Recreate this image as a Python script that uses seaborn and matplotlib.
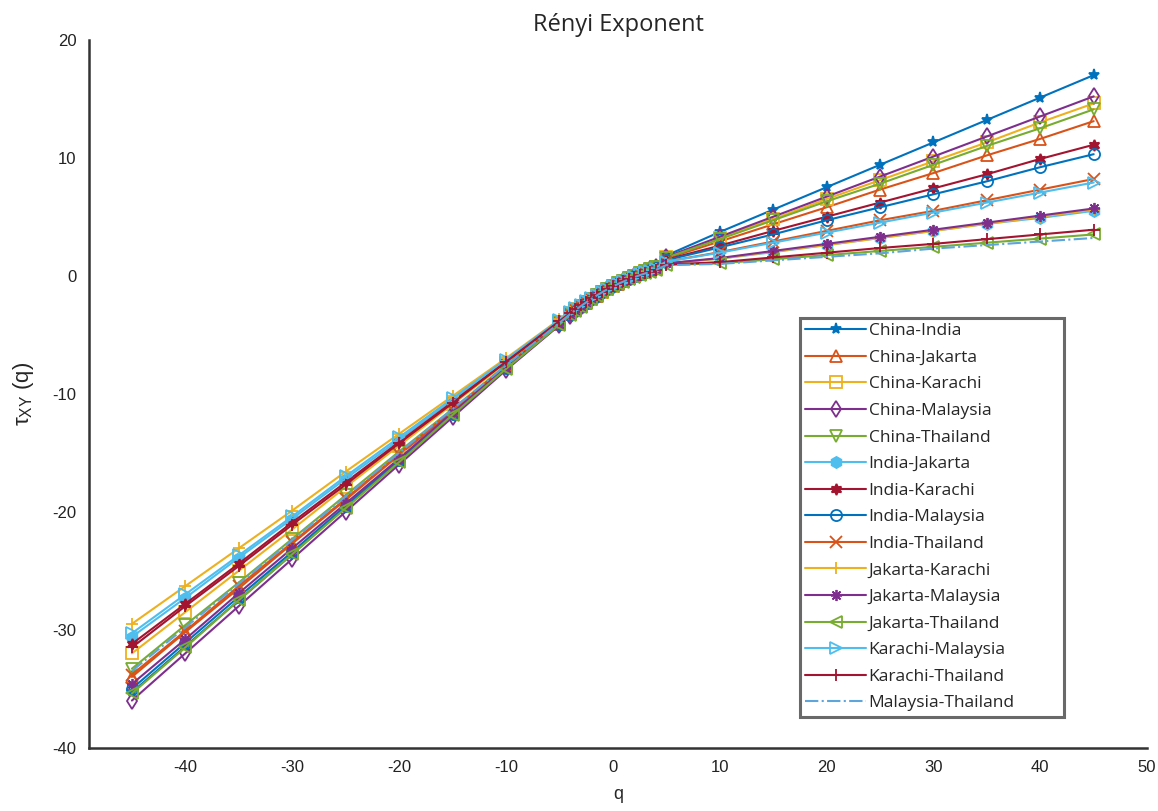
import matplotlib
matplotlib.use("Agg")
import matplotlib.pyplot as plt
import seaborn as sns
import pandas as pd

# q grid: coarse on the wings, fine in the centre
q_values = [-45, -40, -35, -30, -25, -20, -15, -10, -5,
            -4, -3.5, -3, -2.5, -2, -1.5, -1, -0.5, 0, 0.5, 1, 1.5, 2, 2.5, 3, 3.5, 4,
            5, 10, 15, 20, 25, 30, 35, 40, 45]

series_names = ["China-India", "China-Jakarta", "China-Karachi", "China-Malaysia",
                "China-Thailand", "India-Jakarta", "India-Karachi", "India-Malaysia",
                "India-Thailand", "Jakarta-Karachi", "Jakarta-Malaysia", "Jakarta-Thailand",
                "Karachi-Malaysia", "Karachi-Thailand", "Malaysia-Thailand"]

china_india = [-35.3, -31.4, -27.5, -23.6, -19.6, -15.7, -11.8, -7.9, -4.15,
               -3.34, -2.98, -2.65, -2.32, -2.01, -1.70, -1.42, -1.15, -0.90, -0.64, -0.41, -0.19, 0.03, 0.24, 0.43, 0.62, 0.80,
               1.71, 3.7, 5.6, 7.5, 9.4, 11.3, 13.2, 15.1, 17.0]
china_jakarta = [-34.0, -30.2, -26.5, -22.7, -19.0, -15.2, -11.5, -7.7, -4.05,
                 -3.28, -2.93, -2.60, -2.28, -1.98, -1.68, -1.41, -1.14, -0.90, -0.66, -0.43, -0.22, -0.02, 0.18, 0.36, 0.54, 0.71,
                 1.47, 2.9, 4.36, 5.8, 7.3, 8.7, 10.2, 11.6, 13.1]
china_karachi = [-32.0, -28.5, -25.0, -21.5, -17.9, -14.4, -10.9, -7.4, -3.9,
                 -3.19, -2.85, -2.54, -2.22, -1.93, -1.65, -1.39, -1.13, -0.90, -0.65, -0.42, -0.21, 0.00, 0.20, 0.38, 0.56, 0.74,
                 1.56, 3.2, 4.8, 6.5, 8.1, 9.7, 11.3, 13.0, 14.6]
china_malaysia = [-36.0, -32.0, -28.0, -24.0, -20.0, -16.0, -12.0, -8.0, -4.2,
                  -3.37, -3.00, -2.67, -2.33, -2.02, -1.71, -1.43, -1.16, -0.90, -0.65, -0.42, -0.20, 0.01, 0.21, 0.40, 0.58, 0.76,
                  1.59, 3.3, 5.0, 6.7, 8.4, 10.1, 11.8, 13.5, 15.2]
china_thailand = [-33.3, -29.6, -26.0, -22.3, -18.6, -14.9, -11.3, -7.6, -4.0,
                  -3.25, -2.90, -2.58, -2.26, -1.96, -1.67, -1.40, -1.14, -0.90, -0.65, -0.43, -0.21, -0.01, 0.19, 0.38, 0.55, 0.73,
                  1.53, 3.1, 4.7, 6.3, 7.8, 9.4, 11.0, 12.5, 14.1]
india_jakarta = [-30.6, -27.3, -23.9, -20.6, -17.2, -13.9, -10.5, -7.2, -3.8,
                 -3.13, -2.80, -2.49, -2.18, -1.90, -1.63, -1.37, -1.13, -0.90, -0.68, -0.48, -0.28, -0.10, 0.07, 0.24, 0.39, 0.54,
                 1.04, 1.45, 2.0, 2.6, 3.2, 3.8, 4.4, 4.9, 5.5]
india_karachi = [-31.2, -27.8, -24.4, -20.9, -17.5, -14.1, -10.7, -7.3, -3.85,
                 -3.16, -2.82, -2.51, -2.20, -1.92, -1.64, -1.38, -1.13, -0.90, -0.66, -0.44, -0.23, -0.03, 0.15, 0.33, 0.50, 0.67,
                 1.37, 2.55, 3.8, 5.0, 6.2, 7.4, 8.6, 9.9, 11.1]
india_malaysia = [-35.0, -31.1, -27.2, -23.4, -19.5, -15.6, -11.7, -7.85, -4.1,
                  -3.31, -2.95, -2.62, -2.30, -1.99, -1.69, -1.42, -1.15, -0.90, -0.66, -0.45, -0.24, -0.04, 0.14, 0.32, 0.48, 0.65,
                  1.32, 2.4, 3.5, 4.7, 5.8, 6.9, 8.0, 9.2, 10.3]
india_thailand = [-33.8, -30.1, -26.3, -22.6, -18.9, -15.1, -11.4, -7.65, -4.0,
                  -3.25, -2.90, -2.58, -2.26, -1.96, -1.67, -1.40, -1.14, -0.90, -0.67, -0.46, -0.26, -0.07, 0.11, 0.28, 0.44, 0.60,
                  1.2, 2.0, 2.9, 3.8, 4.7, 5.5, 6.4, 7.3, 8.2]
jakarta_karachi = [-29.5, -26.3, -23.1, -19.9, -16.6, -13.4, -10.2, -7.0, -3.7,
                   -3.07, -2.74, -2.45, -2.15, -1.87, -1.60, -1.36, -1.12, -0.90, -0.68, -0.48, -0.28, -0.10, 0.07, 0.24, 0.39, 0.54,
                   1.04, 1.45, 2.05, 2.6, 3.2, 3.8, 4.4, 5.0, 5.6]
jakarta_malaysia = [-34.6, -30.8, -26.9, -23.1, -19.3, -15.5, -11.6, -7.8, -4.1,
                    -3.31, -2.95, -2.62, -2.30, -1.99, -1.69, -1.42, -1.15, -0.90, -0.68, -0.48, -0.28, -0.10, 0.07, 0.24, 0.39, 0.54,
                    1.05, 1.5, 2.1, 2.7, 3.3, 3.9, 4.5, 5.1, 5.7]
jakarta_thailand = [-35.4, -31.5, -27.5, -23.6, -19.7, -15.8, -11.8, -7.9, -4.15,
                    -3.34, -2.98, -2.65, -2.32, -2.01, -1.70, -1.42, -1.15, -0.90, -0.68, -0.49, -0.30, -0.13, 0.04, 0.20, 0.34, 0.49,
                    0.92, 1.05, 1.4, 1.75, 2.1, 2.45, 2.8, 3.15, 3.5]
karachi_malaysia = [-30.3, -27.0, -23.7, -20.4, -17.0, -13.7, -10.4, -7.1, -3.75,
                    -3.10, -2.77, -2.47, -2.17, -1.89, -1.61, -1.36, -1.12, -0.90, -0.67, -0.46, -0.26, -0.07, 0.11, 0.28, 0.44, 0.60,
                    1.19, 1.95, 2.8, 3.65, 4.5, 5.35, 6.2, 7.05, 7.9]
karachi_thailand = [-31.5, -28.0, -24.6, -21.1, -17.7, -14.2, -10.8, -7.3, -3.85,
                    -3.16, -2.82, -2.51, -2.20, -1.92, -1.64, -1.38, -1.13, -0.90, -0.68, -0.48, -0.30, -0.12, 0.05, 0.21, 0.35, 0.50,
                    0.95, 1.15, 1.55, 1.95, 2.35, 2.7, 3.1, 3.5, 3.9]
malaysia_thailand = [-33.5, -29.8, -26.1, -22.4, -18.7, -15.0, -11.3, -7.6, -4.0,
                     -3.25, -2.90, -2.58, -2.26, -1.96, -1.67, -1.40, -1.14, -0.90, -0.69, -0.49, -0.30, -0.13, 0.04, 0.19, 0.34, 0.48,
                     0.9, 1.0, 1.3, 1.6, 1.9, 2.3, 2.6, 2.9, 3.2]

all_series = [china_india, china_jakarta, china_karachi, china_malaysia, china_thailand,
              india_jakarta, india_karachi, india_malaysia, india_thailand, jakarta_karachi,
              jakarta_malaysia, jakarta_thailand, karachi_malaysia, karachi_thailand, malaysia_thailand]

x_ticks = [-40, -30, -20, -10, 0, 10, 20, 30, 40, 50]
y_ticks = [-40, -30, -20, -10, 0, 10, 20]

# styling (MATLAB default colour order)
blue, orange, yellow, purple, green, lblue, red = (
    "#0072BD", "#D95319", "#EDB120", "#7E2F8E", "#77AC30", "#4DBEEE", "#A2142F")
colors = [blue, orange, yellow, purple, green, lblue, red, blue, orange, yellow,
          purple, green, lblue, red, "#5DA5DA"]
markers = ["*", "^", "s", "d", "v", "h", (6, 1, 0), "o", "x", "+",
           (8, 2, 0), "<", ">", "+", None]
filled = [True, False, False, False, False, True, True, False, False, False,
          False, False, False, False, False]
linestyles = ["-"] * 14 + ["-."]

sns.set_style("white")
plt.rcParams["font.family"] = ["Liberation Sans", "DejaVu Sans"]
plt.rcParams["axes.unicode_minus"] = False

fig = plt.figure(figsize=(11.58, 8.11), dpi=100)
ax = fig.add_axes([0.077, 0.078, 0.9136, 0.873])

for name, vals, c, m, f, ls in zip(series_names, all_series, colors, markers, filled, linestyles):
    df = pd.DataFrame({"q": q_values, "tau": vals})
    kw = dict(color=c, linestyle=ls, linewidth=1.5)
    if m is not None:
        kw.update(marker=m, markersize=8, markeredgewidth=1.3,
                  markerfacecolor=(c if f else "none"), markeredgecolor=c)
    sns.lineplot(data=df, x="q", y="tau", ax=ax, label=name,
                 estimator=None, sort=False, **kw)

ax.set_xlim(-49, 50)
ax.set_ylim(-40, 20)
ax.set_xticks(x_ticks)
ax.set_yticks(y_ticks)
ax.tick_params(direction="in", length=7, width=1.3, color="#333333",
               labelsize=12, labelcolor="#222222", pad=9)
for s in ["top", "right"]:
    ax.spines[s].set_visible(False)
for s in ["left", "bottom"]:
    ax.spines[s].set_color("#333333")
    ax.spines[s].set_linewidth(1.8)

ax.set_xlabel("q", fontsize=13, labelpad=8)
ax.set_ylabel(r"τ$_{\mathregular{XY}}$ (q)", fontsize=16, labelpad=12)
ax.set_title("Rényi Exponent", fontsize=17, family=["Open Sans", "DejaVu Sans"], pad=6)

leg = ax.legend(loc="upper left", bbox_to_anchor=(0.672, 0.507, 0.249, 0.1),
                mode="expand", frameon=True, fancybox=False,
                handlelength=3.5, handletextpad=0.15,
                labelspacing=0.6, borderpad=0.3, borderaxespad=0,
                prop={"family": ["Open Sans", "DejaVu Sans"], "size": 12.5})
leg.get_frame().set_edgecolor("#444444")
leg.get_frame().set_linewidth(2.2)

fig.savefig("out.png", dpi=100)
